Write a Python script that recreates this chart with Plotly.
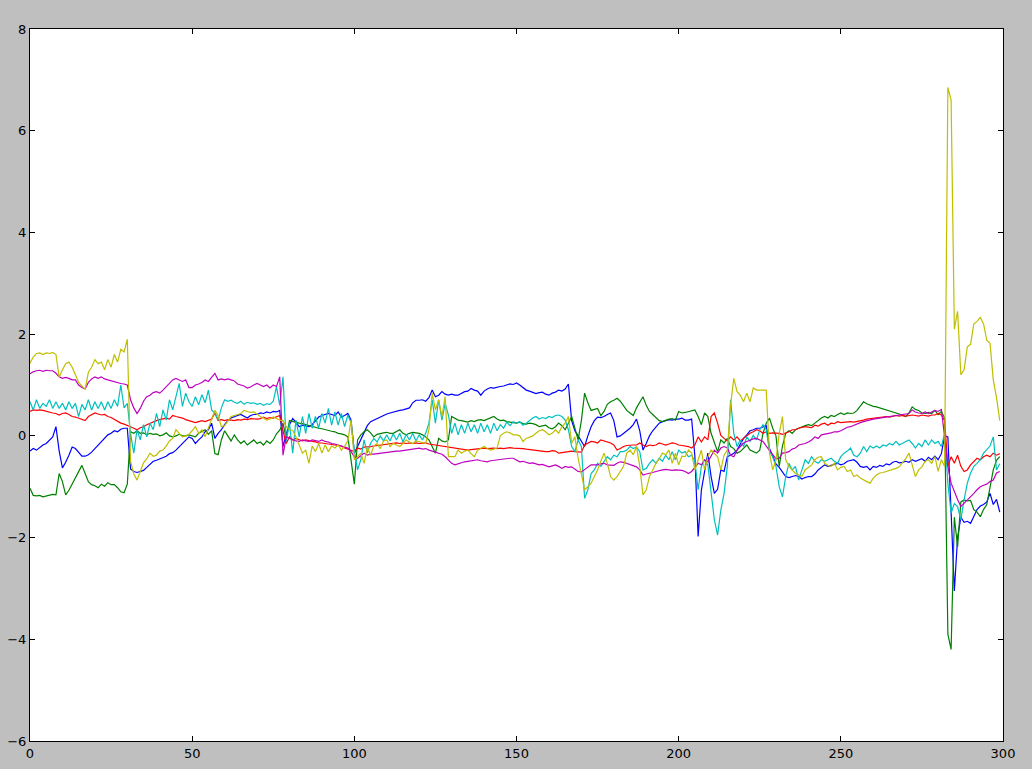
import plotly.graph_objects as go

blue = [
    -0.30, -0.25, -0.28, -0.22, -0.18, -0.15, -0.08, -0.02, 0.18, -0.30,
    -0.63, -0.52, -0.38, -0.22, -0.25, -0.33, -0.40, -0.40, -0.37, -0.32,
    -0.25, -0.18, -0.12, -0.05, 0.02, 0.05, 0.10, 0.08, 0.13, 0.15,
    0.15, -0.65, -0.70, -0.72, -0.70, -0.68, -0.62, -0.55, -0.50, -0.48,
    -0.45, -0.42, -0.40, -0.35, -0.33, -0.28, -0.22, -0.15, -0.10, -0.02,
    -0.05, -0.15, -0.08, -0.02, 0.08, 0.12, 0.25, -0.05, 0.05, 0.12,
    0.22, 0.30, 0.35, 0.38, 0.40, 0.42, 0.38, 0.35, 0.40, 0.42,
    0.42, 0.45, 0.44, 0.47, 0.45, 0.48, 0.47, 0.50, -0.21, 0.04,
    0.22, 0.34, 0.27, 0.18, 0.21, 0.19, 0.18, 0.22, 0.30, 0.37,
    0.40, 0.42, 0.44, 0.42, 0.40, 0.47, 0.37, 0.40, 0.44, 0.31,
    -0.34, -0.21, -0.08, 0.05, 0.20, 0.28, 0.31, 0.35, 0.38, 0.41,
    0.43, 0.45, 0.47, 0.48, 0.50, 0.51, 0.53, 0.55, 0.65, 0.70,
    0.70, 0.71, 0.68, 0.75, 0.90, 0.77, 0.80, 0.87, 0.82, 0.80,
    0.82, 0.80, 0.80, 0.83, 0.87, 0.88, 0.93, 0.90, 0.88, 0.80,
    0.88, 0.92, 0.95, 0.94, 0.96, 0.97, 0.98, 1.00, 1.02, 1.01,
    1.04, 1.00, 0.95, 0.90, 0.88, 0.85, 0.83, 0.85, 0.86, 0.82,
    0.80, 0.84, 0.86, 0.90, 0.88, 0.92, 1.02, 0.30, 0.10, 0.00,
    -0.10, -0.21, 0.00, 0.18, 0.30, 0.37, 0.36, 0.38, 0.42, 0.45,
    0.30, -0.02, 0.00, 0.05, 0.10, 0.15, 0.22, 0.33, 0.10, -0.28,
    -0.15, 0.00, 0.10, 0.18, 0.25, 0.28, 0.30, 0.32, 0.31, 0.33,
    0.33, 0.35, 0.31, 0.31, 0.33, -0.40, -1.98, -1.07, -0.70, -0.34,
    -0.80, -1.13, -1.05, -0.67, -0.70, -0.41, -0.38, -0.34, -0.28, -0.15,
    -0.05, 0.02, 0.10, 0.12, 0.15, 0.15, 0.18, 0.20, -0.25, -0.40,
    -0.55, -0.62, -0.70, -0.80, -0.82, -0.80, -0.78, -0.80, -0.85, -0.82,
    -0.80, -0.80, -0.75, -0.67, -0.62, -0.57, -0.60, -0.58, -0.57, -0.54,
    -0.57, -0.55, -0.50, -0.48, -0.47, -0.52, -0.60, -0.62, -0.60, -0.67,
    -0.60, -0.62, -0.58, -0.60, -0.55, -0.57, -0.52, -0.50, -0.53, -0.52,
    -0.50, -0.52, -0.47, -0.50, -0.47, -0.45, -0.50, -0.42, -0.47, -0.40,
    -0.47, -0.35, 0.00, -0.02, -1.50, -3.05, -2.00, -1.60, -1.70, -1.68,
    -1.72, -1.60, -1.45, -1.38, -1.35, -1.30, -1.13, -1.35, -1.25, -1.50,
]

green = [
    -1.03, -1.17, -1.18, -1.17, -1.20, -1.18, -1.17, -1.15, -1.16, -0.74,
    -0.90, -1.16, -1.07, -0.94, -0.84, -0.70, -0.58, -0.74, -0.90, -0.96,
    -0.98, -1.02, -0.95, -0.99, -0.92, -0.96, -0.96, -1.02, -1.10, -1.12,
    -0.95, 0.08, 0.05, 0.10, 0.05, 0.06, 0.02, 0.05, 0.03, 0.04,
    0.00, 0.02, 0.06, 0.00, -0.02, 0.00, 0.03, 0.00, 0.00, 0.02,
    0.00, -0.02, 0.05, 0.08, 0.12, 0.03, 0.10, -0.35, -0.37, -0.08,
    0.10, 0.00, -0.10, 0.02, -0.08, -0.15, -0.10, -0.18, -0.12, -0.08,
    -0.15, -0.12, -0.18, -0.10, -0.15, -0.08, 0.04, 0.11, 0.25, -0.05,
    0.30, 0.28, 0.27, 0.25, 0.24, 0.22, 0.20, 0.18, 0.17, 0.15,
    0.14, 0.12, 0.10, 0.09, 0.08, 0.05, 0.04, 0.02, -0.02, -0.50,
    -0.95, -0.08, 0.02, 0.08, 0.12, 0.06, -0.02, 0.03, 0.05, 0.06,
    0.07, 0.05, 0.05, 0.08, 0.12, 0.05, 0.02, 0.05, 0.07, 0.06,
    0.05, 0.02, -0.02, -0.08, -0.20, -0.34, -0.05, -0.10, -0.12, -0.08,
    0.38, 0.35, 0.31, 0.30, 0.28, 0.27, 0.30, 0.28, 0.31, 0.32,
    0.30, 0.33, 0.35, 0.38, 0.33, 0.30, 0.31, 0.28, 0.27, 0.26,
    0.25, 0.27, 0.24, 0.23, 0.25, 0.24, 0.22, 0.18, 0.20, 0.21,
    0.16, 0.14, 0.18, 0.25, 0.20, 0.12, 0.25, 0.38, 0.15, -0.08,
    0.30, 0.84, 0.65, 0.50, 0.52, 0.54, 0.40, 0.48, 0.62, 0.67,
    0.70, 0.74, 0.68, 0.58, 0.50, 0.45, 0.40, 0.55, 0.65, 0.77,
    0.60, 0.48, 0.42, 0.36, 0.30, 0.28, 0.31, 0.33, 0.34, 0.31,
    0.48, 0.45, 0.46, 0.48, 0.50, 0.51, 0.38, 0.22, 0.45, 0.38,
    0.05, -0.11, -0.31, -0.08, -0.14, -0.05, -0.21, -0.25, -0.34, -0.31,
    -0.25, -0.18, -0.28, -0.31, -0.34, -0.28, 0.05, 0.25, 0.35, 0.15,
    0.00, -0.60, -0.20, 0.05, 0.10, 0.05, 0.12, 0.15, 0.18, 0.20,
    0.22, 0.20, 0.25, 0.30, 0.35, 0.38, 0.35, 0.40, 0.38, 0.42,
    0.45, 0.42, 0.45, 0.44, 0.45, 0.50, 0.58, 0.67, 0.63, 0.60,
    0.58, 0.57, 0.55, 0.53, 0.52, 0.50, 0.47, 0.45, 0.43, 0.40,
    0.38, 0.45, 0.57, 0.52, 0.50, 0.45, 0.44, 0.46, 0.44, 0.50,
    0.42, 0.48, 0.35, -3.90, -4.20, -1.60, -2.18, -1.30, -1.26, -1.28,
    -1.27, -1.45, -1.50, -1.59, -1.45, -1.35, -1.00, -0.67, -0.48, -0.41,
]

red = [
    0.48, 0.51, 0.50, 0.51, 0.50, 0.48, 0.47, 0.45, 0.44, 0.41,
    0.44, 0.45, 0.42, 0.38, 0.37, 0.35, 0.33, 0.30, 0.38, 0.41,
    0.45, 0.43, 0.41, 0.42, 0.38, 0.36, 0.32, 0.28, 0.25, 0.23,
    0.21, 0.18, 0.15, 0.12, 0.16, 0.18, 0.22, 0.25, 0.28, 0.30,
    0.32, 0.33, 0.35, 0.33, 0.40, 0.38, 0.37, 0.35, 0.32, 0.30,
    0.28, 0.26, 0.28, 0.30, 0.28, 0.31, 0.33, 0.45, 0.30, 0.32,
    0.30, 0.32, 0.31, 0.30, 0.32, 0.31, 0.33, 0.32, 0.34, 0.33,
    0.33, 0.34, 0.37, 0.34, 0.36, 0.35, 0.37, 0.40, 0.10, -0.15,
    -0.02, -0.08, -0.05, -0.08, -0.10, -0.08, -0.10, -0.11, -0.12, -0.14,
    -0.14, -0.15, -0.16, -0.17, -0.18, -0.19, -0.20, -0.24, -0.26, -0.28,
    -0.31, -0.24, -0.26, -0.22, -0.22, -0.21, -0.20, -0.19, -0.18, -0.17,
    -0.16, -0.15, -0.15, -0.14, -0.15, -0.14, -0.15, -0.14, -0.15, -0.14,
    -0.15, -0.15, -0.14, -0.16, -0.17, -0.18, -0.19, -0.20, -0.21, -0.22,
    -0.23, -0.24, -0.25, -0.26, -0.27, -0.28, -0.27, -0.26, -0.26, -0.25,
    -0.24, -0.25, -0.24, -0.24, -0.25, -0.24, -0.25, -0.24, -0.23, -0.24,
    -0.24, -0.24, -0.25, -0.26, -0.27, -0.27, -0.28, -0.29, -0.30, -0.31,
    -0.31, -0.29, -0.30, -0.34, -0.33, -0.32, -0.31, -0.30, -0.31, -0.32,
    -0.32, -0.18, -0.15, -0.11, -0.12, -0.14, -0.08, -0.10, -0.12, -0.14,
    -0.18, -0.28, -0.25, -0.21, -0.19, -0.18, -0.18, -0.18, -0.14, -0.18,
    -0.21, -0.18, -0.19, -0.18, -0.14, -0.16, -0.18, -0.16, -0.14, -0.15,
    -0.18, -0.19, -0.20, -0.21, -0.24, -0.18, -0.02, -0.12, -0.02, -0.08,
    0.38, 0.45, 0.25, 0.01, -0.05, -0.10, -0.02, -0.08, -0.02, -0.10,
    -0.05, 0.01, 0.05, 0.08, 0.12, 0.10, 0.05, 0.08, 0.05, 0.06,
    0.06, 0.05, 0.03, 0.05, 0.08, 0.12, 0.12, 0.15, 0.16, 0.18,
    0.17, 0.16, 0.21, 0.19, 0.23, 0.25, 0.21, 0.25, 0.24, 0.28,
    0.26, 0.27, 0.28, 0.28, 0.27, 0.28, 0.30, 0.31, 0.33, 0.34,
    0.35, 0.35, 0.36, 0.37, 0.38, 0.37, 0.38, 0.40, 0.39, 0.40,
    0.39, 0.40, 0.41, 0.40, 0.39, 0.41, 0.40, 0.39, 0.41, 0.41,
    0.44, 0.41, 0.30, -0.60, -0.41, -0.54, -0.38, -0.60, -0.70, -0.67,
    -0.57, -0.50, -0.44, -0.47, -0.41, -0.38, -0.41, -0.34, -0.38, -0.35,
]

cyan = [
    0.67, 0.51, 0.71, 0.54, 0.64, 0.58, 0.71, 0.54, 0.67, 0.54,
    0.64, 0.51, 0.67, 0.54, 0.64, 0.38, 0.62, 0.51, 0.71, 0.51,
    0.67, 0.54, 0.67, 0.51, 0.67, 0.54, 0.71, 0.58, 1.00, 0.55,
    0.64, 0.05, -0.34, 0.12, -0.08, 0.22, -0.02, 0.25, 0.12, 0.44,
    0.18, 0.51, 0.31, 0.71, 0.51, 0.80, 1.03, 0.58, 0.84, 0.67,
    0.58, 0.77, 0.61, 0.81, 0.65, 0.90, 0.51, 0.45, 0.31, 0.55,
    0.71, 0.68, 0.70, 0.66, 0.64, 0.68, 0.62, 0.66, 0.64, 0.65,
    0.62, 0.64, 0.60, 0.63, 0.62, 0.68, 0.97, 0.60, 1.16, -0.11,
    0.25, -0.34, 0.31, -0.02, 0.38, 0.05, 0.44, 0.15, 0.38, 0.15,
    0.44, 0.25, 0.54, 0.21, 0.47, 0.21, 0.44, 0.18, 0.41, 0.25,
    -0.28, -0.67, -0.47, -0.08, -0.34, -0.15, -0.05, -0.12, 0.00, -0.10,
    0.02, -0.10, 0.04, -0.08, 0.05, -0.12, 0.03, -0.08, 0.05, -0.10,
    0.02, -0.08, 0.05, 0.25, 0.71, 0.25, 0.71, 0.31, 0.64, 0.41,
    0.05, 0.25, 0.02, 0.22, 0.05, 0.25, 0.08, 0.22, 0.05, 0.25,
    0.08, 0.22, 0.05, 0.25, 0.10, 0.22, 0.15, 0.27, 0.20, 0.28,
    0.25, 0.28, 0.21, 0.25, 0.30, 0.35, 0.38, 0.33, 0.36, 0.34,
    0.38, 0.36, 0.40, 0.41, 0.38, 0.31, 0.12, -0.21, -0.31, -0.08,
    -0.21, -1.23, -1.06, -0.74, -0.67, -0.54, -0.60, -0.50, -0.41, -0.47,
    -0.38, -0.41, -0.31, -0.31, -0.28, -0.21, -0.25, -0.22, -0.31, -0.67,
    -0.64, -0.54, -0.47, -0.54, -0.44, -0.50, -0.38, -0.47, -0.31, -0.47,
    -0.28, -0.34, -0.31, -0.41, -0.38, -0.50, -1.06, -0.60, -0.47, -0.57,
    -1.06, -1.65, -1.95, -1.46, -1.13, -0.60, 0.71, 0.05, -0.21, -0.08,
    -0.21, -0.02, -0.11, 0.01, -0.08, 0.12, 0.22, 0.12, -0.30, -0.41,
    -0.60, -1.00, -1.20, -0.80, -0.54, -0.67, -0.60, -0.87, -0.67, -0.47,
    -0.54, -0.41, -0.50, -0.54, -0.47, -0.50, -0.47, -0.44, -0.50, -0.54,
    -0.41, -0.34, -0.30, -0.24, -0.38, -0.41, -0.34, -0.21, -0.31, -0.20,
    -0.24, -0.20, -0.24, -0.18, -0.20, -0.15, -0.18, -0.11, -0.18, -0.15,
    -0.12, -0.08, -0.15, -0.24, -0.15, -0.21, -0.08, -0.18, -0.08, -0.15,
    -0.11, -0.21, 0.05, -0.93, -1.52, -1.33, -1.39, -1.65, -1.26, -0.93,
    -0.73, -0.60, -0.54, -0.47, -0.34, -0.28, -0.20, -0.02, -0.67, -0.55,
]

magenta = [
    1.22, 1.26, 1.28, 1.29, 1.27, 1.29, 1.28, 1.28, 1.23, 1.16,
    1.13, 1.15, 1.13, 1.10, 1.10, 1.00, 0.95, 0.92, 1.05, 1.12,
    1.16, 1.13, 1.16, 1.12, 1.10, 1.08, 1.07, 1.05, 1.03, 1.02,
    1.00, 0.71, 0.55, 0.44, 0.54, 0.68, 0.77, 0.80, 0.85, 0.87,
    0.84, 0.90, 0.97, 1.05, 1.10, 1.13, 1.10, 1.07, 1.10, 0.95,
    0.95, 1.00, 1.02, 1.05, 1.10, 1.07, 1.15, 1.23, 1.10, 1.12,
    1.10, 1.12, 1.10, 1.08, 1.02, 1.00, 0.98, 0.94, 0.96, 1.00,
    1.03, 1.00, 0.97, 1.00, 0.94, 1.00, 0.97, 1.16, -0.38, -0.02,
    -0.05, -0.08, -0.10, -0.11, -0.08, -0.10, -0.11, -0.08, -0.10, -0.11,
    -0.08, -0.11, -0.12, -0.15, -0.16, -0.18, -0.20, -0.22, -0.24, -0.31,
    -0.41, -0.44, -0.38, -0.34, -0.38, -0.36, -0.36, -0.35, -0.34, -0.33,
    -0.32, -0.31, -0.31, -0.30, -0.30, -0.29, -0.28, -0.28, -0.27, -0.26,
    -0.24, -0.26, -0.25, -0.28, -0.30, -0.31, -0.34, -0.36, -0.41, -0.48,
    -0.54, -0.57, -0.55, -0.52, -0.51, -0.50, -0.49, -0.48, -0.47, -0.49,
    -0.50, -0.51, -0.49, -0.48, -0.47, -0.46, -0.45, -0.45, -0.44, -0.44,
    -0.47, -0.51, -0.50, -0.52, -0.54, -0.53, -0.55, -0.57, -0.56, -0.58,
    -0.61, -0.59, -0.57, -0.60, -0.64, -0.60, -0.62, -0.61, -0.66, -0.70,
    -0.71, -0.66, -0.61, -0.57, -0.57, -0.57, -0.55, -0.54, -0.57, -0.58,
    -0.58, -0.54, -0.51, -0.52, -0.54, -0.56, -0.59, -0.61, -0.67, -0.77,
    -0.75, -0.74, -0.72, -0.70, -0.68, -0.67, -0.66, -0.67, -0.68, -0.67,
    -0.67, -0.68, -0.70, -0.74, -0.70, -0.62, -0.54, -0.57, -0.47, -0.51,
    -0.40, -0.28, -0.34, -0.24, -0.21, -0.24, -0.38, -0.41, -0.28, -0.21,
    -0.14, -0.11, -0.08, -0.06, -0.05, -0.08, -0.11, -0.20, -0.28, -0.38,
    -0.45, -0.44, -0.34, -0.33, -0.31, -0.26, -0.24, -0.18, -0.17, -0.15,
    -0.12, -0.08, -0.02, -0.05, 0.02, 0.03, 0.05, 0.06, 0.08, 0.08,
    0.10, 0.14, 0.17, 0.18, 0.21, 0.23, 0.26, 0.28, 0.30, 0.31,
    0.33, 0.34, 0.35, 0.36, 0.37, 0.38, 0.40, 0.41, 0.42, 0.42,
    0.43, 0.44, 0.51, 0.47, 0.45, 0.44, 0.47, 0.44, 0.47, 0.50,
    0.48, 0.52, -0.02, -0.60, -0.93, -1.10, -1.25, -1.39, -1.33, -1.26,
    -1.20, -1.13, -1.06, -1.00, -0.97, -0.95, -0.90, -0.87, -0.73, -0.70,
]

yellow = [
    1.43, 1.55, 1.62, 1.63, 1.60, 1.63, 1.62, 1.64, 1.60, 1.15,
    1.30, 1.42, 1.45, 1.35, 1.20, 1.05, 0.98, 0.92, 1.25, 1.35,
    1.50, 1.42, 1.45, 1.30, 1.50, 1.35, 1.60, 1.45, 1.70, 1.65,
    1.90, -0.50, -0.75, -0.87, -0.70, -0.53, -0.45, -0.34, -0.40, -0.38,
    -0.30, -0.28, -0.20, -0.10, -0.05, 0.12, 0.05, -0.02, 0.00, 0.03,
    0.10, 0.18, 0.05, 0.12, -0.02, 0.15, 0.35, 0.50, 0.40, 0.18,
    0.20, 0.30, 0.38, 0.40, 0.42, 0.44, 0.50, 0.48, 0.46, 0.47,
    0.42, 0.38, 0.35, 0.31, 0.33, 0.37, 0.34, 0.31, 0.30, 0.18,
    0.12, 0.11, -0.02, -0.20, -0.34, -0.28, -0.54, -0.20, -0.31, -0.15,
    -0.34, -0.18, -0.31, -0.20, -0.24, -0.18, -0.28, -0.20, -0.10, 0.31,
    -0.47, -0.41, -0.34, -0.54, -0.22, -0.38, -0.20, -0.15, -0.25, -0.10,
    -0.08, -0.21, -0.15, -0.18, -0.21, -0.15, -0.08, -0.12, -0.15, -0.10,
    -0.11, -0.13, -0.15, 0.12, 0.84, 0.51, 0.71, 0.38, 0.77, -0.41,
    -0.41, -0.41, -0.28, -0.34, -0.30, -0.28, -0.35, -0.41, -0.28, -0.25,
    -0.21, -0.25, -0.28, -0.26, -0.24, 0.00, 0.05, 0.08, 0.06, 0.02,
    0.02, 0.00, -0.11, -0.05, -0.02, 0.00, 0.05, 0.10, 0.12, 0.08,
    0.02, 0.05, 0.12, 0.05, 0.18, 0.25, 0.38, -0.15, -0.02, -0.44,
    -0.75, -1.06, -1.00, -0.93, -0.80, -0.67, -0.50, -0.34, -0.54, -0.80,
    -0.87, -0.80, -0.70, -0.60, -0.34, -0.28, -0.37, -0.21, -0.60, -1.16,
    -1.06, -0.80, -0.67, -0.54, -0.45, -0.34, -0.37, -0.28, -0.54, -0.34,
    -0.57, -0.40, -0.41, -0.28, -0.34, -0.67, -0.47, -0.28, -0.67, -0.41,
    -0.28, -0.34, -0.41, -0.67, -0.38, -0.28, 0.60, 1.13, 0.87, 0.80,
    0.67, 0.84, 0.67, 0.94, 0.90, 0.90, 0.90, 0.90, -0.34, -0.67,
    -0.47, 0.05, 0.38, -0.47, -0.60, -0.67, -0.74, -0.77, -0.80, -0.67,
    -0.62, -0.57, -0.47, -0.42, -0.41, -0.54, -0.58, -0.60, -0.54, -0.67,
    -0.62, -0.60, -0.70, -0.67, -0.80, -0.77, -0.83, -0.87, -0.90, -0.93,
    -0.83, -0.77, -0.73, -0.72, -0.70, -0.69, -0.67, -0.64, -0.61, -0.54,
    -0.45, -0.34, -0.55, -0.80, -0.67, -0.61, -0.50, -0.47, -0.54, -0.41,
    -0.70, -0.47, -0.60, 6.85, 6.60, 2.10, 2.45, 1.20, 1.30, 1.75,
    1.80, 2.20, 2.25, 2.33, 2.20, 1.88, 1.82, 1.10, 0.75, 0.30,
]

series = [
    ("b", blue, "#0000ff"),
    ("g", green, "#008000"),
    ("r", red, "#ff0000"),
    ("c", cyan, "#00bfbf"),
    ("m", magenta, "#bf00bf"),
    ("y", yellow, "#bfbf00"),
]

x_ticks = [0, 50, 100, 150, 200, 250, 300]
y_ticks = [-6, -4, -2, 0, 2, 4, 6, 8]

fig = go.Figure()
for name, vals, col in series:
    fig.add_trace(go.Scatter(
        x=list(range(len(vals))), y=vals, mode="lines", name=name,
        line=dict(color=col, width=1.2), showlegend=False,
    ))

axis_common = dict(
    showgrid=False, zeroline=False, showline=True, linecolor="black",
    linewidth=1, mirror="allticks", ticks="inside", ticklen=5,
    tickcolor="black", tickwidth=1, automargin=False,
    tickfont=dict(family="DejaVu Sans", size=13, color="black"),
)

fig.update_layout(
    width=1032, height=769,
    margin=dict(l=30, r=29, t=29, b=28),
    paper_bgcolor="#bfbfbf", plot_bgcolor="white",
    xaxis=dict(range=[0, 300], tickvals=x_ticks, **axis_common),
    yaxis=dict(range=[-6, 8], tickvals=y_ticks, **axis_common),
)

fig.write_html(
    "out.html",
    config={"displayModeBar": False},
    post_script="document.body.style.margin='0';document.body.style.background='#bfbfbf';",
)
